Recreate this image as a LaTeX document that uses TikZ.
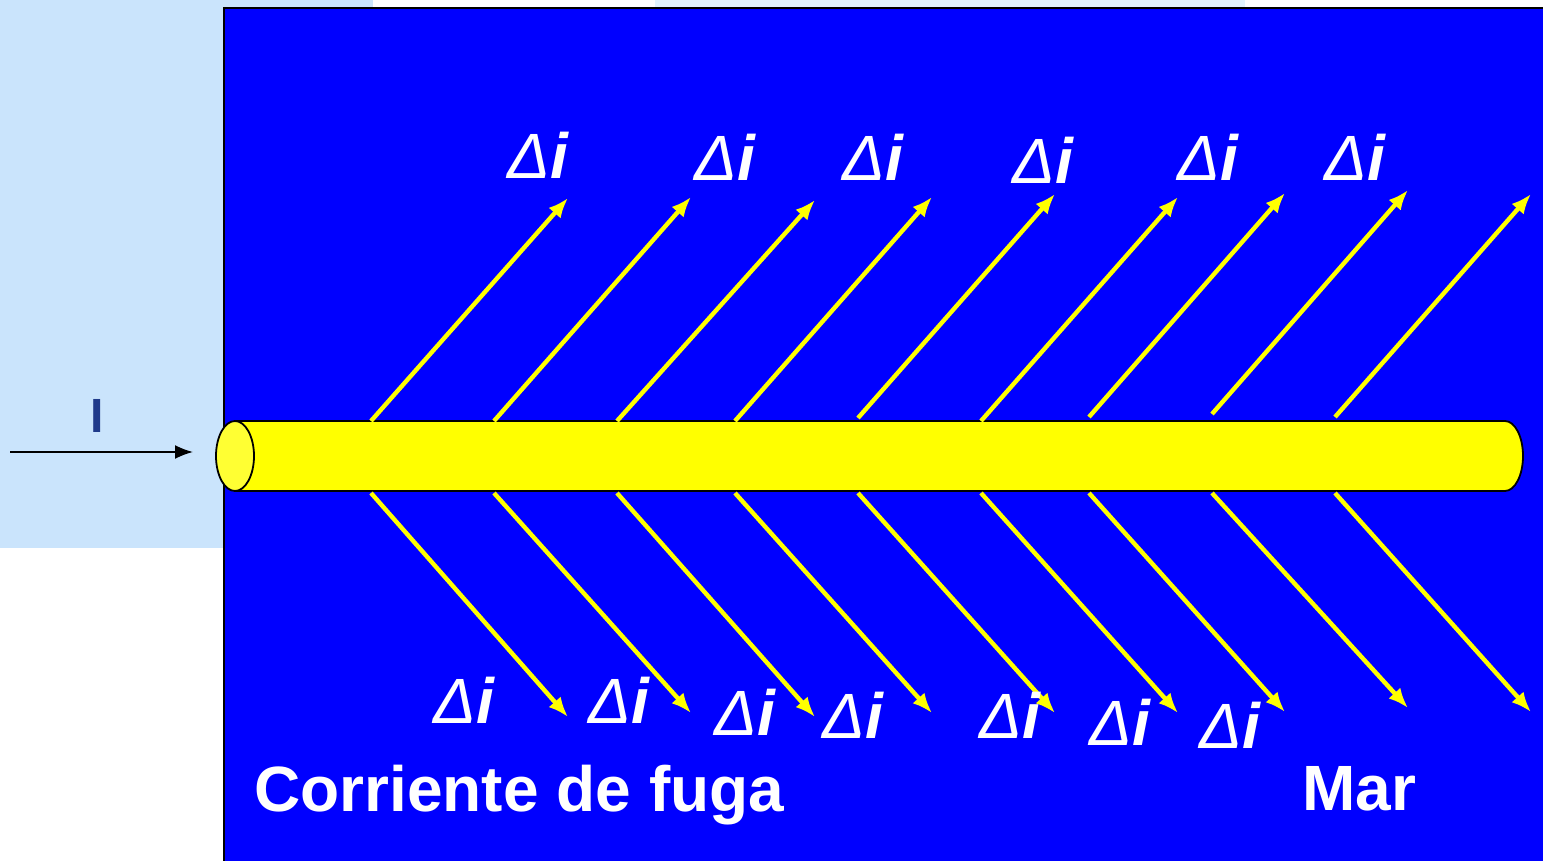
\documentclass[tikz,border=0pt]{standalone}
\usepackage{fontspec}
\setmainfont{Liberation Sans}
\usetikzlibrary{arrows.meta}
\definecolor{sea}{HTML}{0000FF}
\definecolor{sky}{HTML}{CAE4FC}
\definecolor{skylight}{HTML}{E1F3FE}
\definecolor{wire}{HTML}{FFFF00}
\definecolor{wirelight}{HTML}{FFFF33}
\definecolor{ink}{HTML}{1F3A8A}
\tikzset{
  tube/.style   = {draw=black, line width=0.9pt, fill=wire},
  tubeend/.style= {draw=black, line width=0.9pt, fill=wirelight},
  leak/.style   = {-{Latex[length=10pt,width=8pt]}, draw=wire, line width=2.2pt},
  feed/.style   = {-{Latex[length=9pt,width=7pt]}, draw=black, line width=0.9pt},
  dlabel/.style = {text=white, font=\fontsize{32}{36}\selectfont, inner sep=0pt},
  title/.style  = {text=white, font=\fontsize{32}{38}\selectfont\bfseries, inner sep=0pt},
}
\newcommand{\deltai}{\textit{Δ\textbf{i}}}

\begin{document}
\begin{tikzpicture}[x=0.5pt, y=-0.5pt]

  \useasboundingbox (0,0) rectangle (1543,861);
  \fill[white] (0,0) rectangle (1543,861);

  % ----- background panels -----
  \fill[sky] (0,0) rectangle (373,8);
  \fill[sky] (0,0) rectangle (224,548);
  \fill[skylight] (655,0) rectangle (1245,8);
  \draw[fill=sea, draw=black, line width=1pt] (224,8) rectangle (1546,864);

  % ----- incoming current -----
  \coordinate (fin) at (10,452);
  \coordinate (fout) at (193,452);
  \draw[feed] (fin) -- (fout);
  \node[text=ink, font=\fontsize{24}{28}\selectfont\bfseries, inner sep=0pt] (curr) at (97,416) {I};

  % ----- cable -----
  \draw[tube] (235,421) -- (1505,421) arc[start angle=90, end angle=-90, x radius=9pt, y radius=17.5pt]
              -- (235,491) -- cycle;
  \draw[tubeend] (235,456) ellipse[x radius=9.5pt, y radius=17.5pt];

  % ----- leakage arrows -----
  \foreach \i/\sx/\sy/\ex/\ey in {1/371/421/568/198, 2/494/421/691/197, 3/617/421/815/200,
      4/735/421/932/197, 5/858/418/1055/194, 6/981/421/1178/197, 7/1089/417/1285/193,
      8/1212/414/1408/190, 9/1335/417/1531/194} {
    \coordinate (us\i) at (\sx,\sy);
    \coordinate (ue\i) at (\ex,\ey);
    \draw[leak] (us\i) -- (ue\i);
  }
  \foreach \i/\sx/\ex/\ey in {1/371/568/717, 2/494/691/713, 3/617/815/717,
      4/735/932/713, 5/858/1055/713, 6/981/1178/713, 7/1089/1285/712,
      8/1212/1408/708, 9/1335/1531/712} {
    \coordinate (ls\i) at (\sx,493);
    \coordinate (le\i) at (\ex,\ey);
    \draw[leak] (ls\i) -- (le\i);
  }

  % ----- labels -----
  \foreach \i/\lx/\ly in {1/538/155, 2/725/157, 3/873/157, 4/1043/160, 5/1208/157, 6/1355/157}
    \node[dlabel] (dtop\i) at (\lx,\ly) {\deltai};
  \foreach \i/\lx/\ly in {1/464/700, 2/619/700, 3/745/712, 4/853/715, 5/1010/715, 6/1120/722, 7/1230/725}
    \node[dlabel] (dbot\i) at (\lx,\ly) {\deltai};

  \node[title, anchor=base west] (fuga) at (254,811) {Corriente de fuga};
  \node[title, anchor=base west] (mar) at (1302,810) {Mar};

\end{tikzpicture}
\end{document}
